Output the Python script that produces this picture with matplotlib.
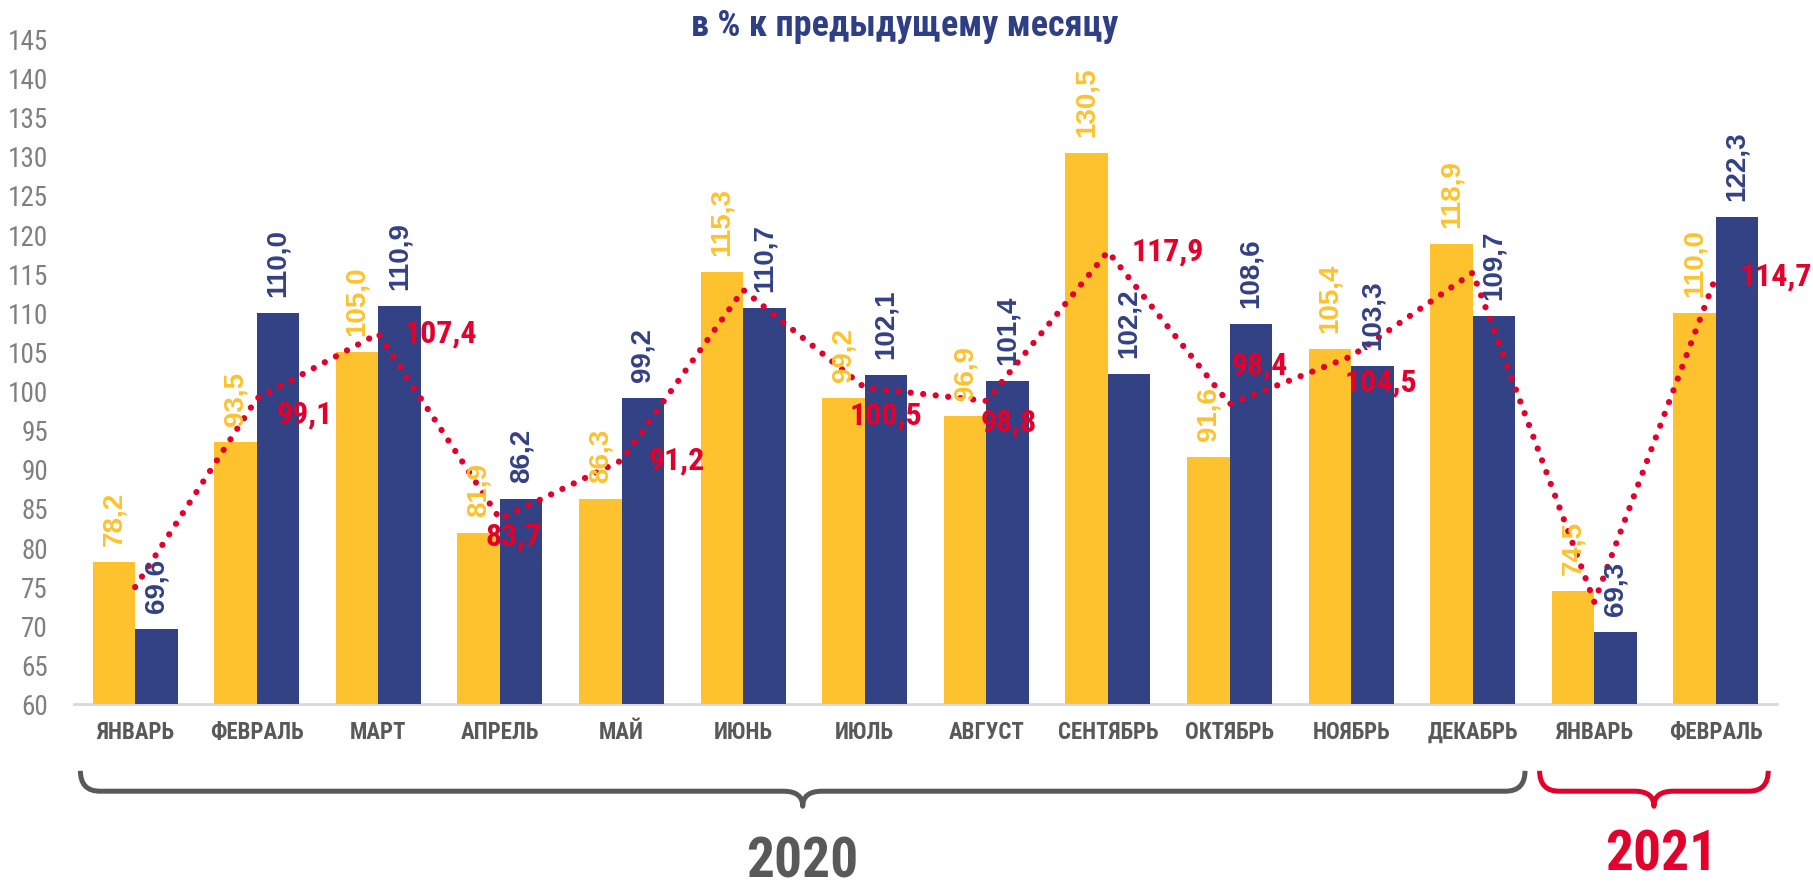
import matplotlib
matplotlib.use("Agg")
import matplotlib.pyplot as plt
import matplotlib.transforms as mtransforms
from matplotlib.path import Path
from matplotlib.patches import PathPatch
import numpy as np

# ---- data ----
months = ["ЯНВАРЬ", "ФЕВРАЛЬ", "МАРТ", "АПРЕЛЬ", "МАЙ", "ИЮНЬ", "ИЮЛЬ", "АВГУСТ",
          "СЕНТЯБРЬ", "ОКТЯБРЬ", "НОЯБРЬ", "ДЕКАБРЬ", "ЯНВАРЬ", "ФЕВРАЛЬ"]
yellow_vals = [78.2, 93.5, 105.0, 81.9, 86.3, 115.3, 99.2, 96.9, 130.5, 91.6, 105.4, 118.9, 74.5, 110.0]
blue_vals = [69.6, 110.0, 110.9, 86.2, 99.2, 110.7, 102.1, 101.4, 102.2, 108.6, 103.3, 109.7, 69.3, 122.3]
red_vals = [75.0, 99.1, 107.4, 83.7, 91.2, 113.0, 100.5, 98.8, 117.9, 98.4, 104.5, 115.2, 73.1, 114.7]
red_labelled = [False, True, True, True, True, False, True, True, True, True, True, False, False, True]
year_names = ["2020", "2021"]
year_spans = [(0, 11), (12, 13)]
title = "в % к предыдущему месяцу"

# label placement for the red line (offset pixels, alignment)
red_offsets = [(0, 0, "left"), (20, -16, "left"), (26, 0, "left"), (14, -17, "center"),
               (27, 0, "left"), (0, 0, "left"), (21, -28, "center"), (22, -22, "center"),
               (24, 0, "left"), (30, 39, "center"), (30, -26, "center"), (0, 0, "left"),
               (0, 0, "left"), (24, 0, "left")]

YELLOW = "#FDC22E"
BLUE = "#334185"
RED = "#E3002B"
GRAY = "#595959"
NARROW = "Roboto Condensed"
WIDE = "Liberation Sans"

fig = plt.figure(figsize=(18.13, 8.86), dpi=100)
ax = fig.add_axes([0.041, 0.2049, 0.939, 0.7505])

x = np.arange(len(months))
w = 0.35
ax.bar(x - w / 2, yellow_vals, w, color=YELLOW, zorder=2)
ax.bar(x + w / 2, blue_vals, w, color=BLUE, zorder=2)

for xi, v in zip(x, yellow_vals):
    ax.annotate(f"{v:.1f}".replace(".", ","), (xi - w / 2, v), xytext=(0, 16),
                textcoords="offset pixels", rotation=90, ha="center", va="bottom",
                color=YELLOW, fontsize=20, fontweight="bold", family=WIDE, zorder=4)
for xi, v in zip(x, blue_vals):
    ax.annotate(f"{v:.1f}".replace(".", ","), (xi + w / 2, v), xytext=(0, 16),
                textcoords="offset pixels", rotation=90, ha="center", va="bottom",
                color=BLUE, fontsize=20, fontweight="bold", family=WIDE, zorder=4)

ax.plot(x, red_vals, color=RED, lw=4.5, linestyle=(0, (0.01, 2.0)),
        dash_capstyle="round", zorder=3)
for xi, v, show, (dx, dy, ha) in zip(x, red_vals, red_labelled, red_offsets):
    if show:
        ax.annotate(f"{v:.1f}".replace(".", ","), (xi, v), xytext=(dx, dy),
                    textcoords="offset pixels", ha=ha, va="center",
                    color=RED, fontsize=23, fontweight="bold", family=NARROW, zorder=5)

ax.set_xlim(-0.5, len(months) - 0.5)
ax.set_ylim(60, 145)
ax.set_yticks(np.arange(60, 146, 5))
ax.set_xticks(x)
ax.set_xticklabels(months, fontsize=16.5, fontweight="bold", color=GRAY, family=NARROW)
for lab in ax.get_yticklabels():
    lab.set_family(NARROW)
    lab.set_fontsize(19.5)
    lab.set_color("#7F7F7F")
ax.tick_params(axis="both", length=0)
ax.tick_params(axis="x", pad=12)
ax.tick_params(axis="y", pad=19)
for side in ["top", "right", "left"]:
    ax.spines[side].set_visible(False)
ax.spines["bottom"].set_color("#D9D9D9")
ax.spines["bottom"].set_linewidth(2)
ax.spines["bottom"].set_zorder(1)

fig.text(0.4988, 0.971, title, ha="center", va="center", fontsize=26,
         fontweight="bold", color="#2F3F86", family=NARROW)

# year braces under the axis
tr = mtransforms.blended_transform_factory(ax.transData, fig.transFigure)
y_top, y_mid, y_tip = 0.130, 0.107, 0.090


def brace(x0, x1, color):
    xc = (x0 + x1) / 2
    r = 0.16
    verts = [(x0, y_top), (x0, y_mid), (x0 + r, y_mid),
             (xc - r, y_mid),
             (xc, y_mid), (xc, y_tip),
             (xc, y_mid), (xc + r, y_mid),
             (x1 - r, y_mid),
             (x1, y_mid), (x1, y_top)]
    codes = [Path.MOVETO, Path.CURVE3, Path.CURVE3, Path.LINETO,
             Path.CURVE3, Path.CURVE3, Path.CURVE3, Path.CURVE3,
             Path.LINETO, Path.CURVE3, Path.CURVE3]
    fig.patches.append(PathPatch(Path(verts, codes), transform=tr, fill=False,
                                 edgecolor=color, lw=3.6, capstyle="butt",
                                 joinstyle="round"))


year_colors = [GRAY, RED]
year_y = [0.0264, 0.034]
year_dx = [0.0, 0.06]
for (a, b), name, col, yy, ddx in zip(year_spans, year_names, year_colors, year_y, year_dx):
    x0, x1 = a - 0.45, b + 0.43
    brace(x0, x1, col)
    fig.text((x0 + x1) / 2 + ddx, yy, name, transform=tr, ha="center", va="center",
             fontsize=40, fontweight="bold", color=col, family=NARROW)

fig.savefig("out.png", dpi=100)
